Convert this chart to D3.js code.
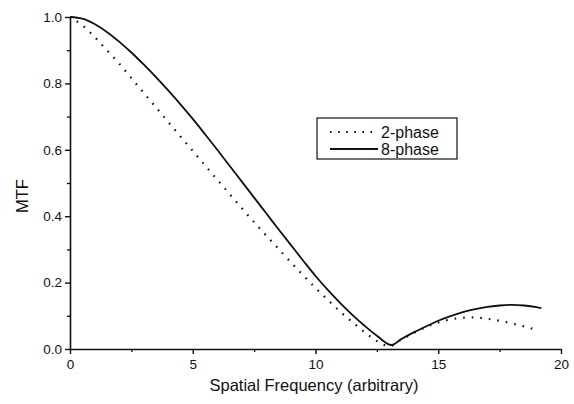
<!DOCTYPE html>
<html>
<head>
<meta charset="utf-8">
<script src="https://cdn.jsdelivr.net/npm/d3@7"></script>
<style>
  html, body { margin: 0; padding: 0; background: #fff; }
  text { font-family: "Liberation Sans", Arial, sans-serif; fill: #111; }
</style>
</head>
<body>
<svg id="chart" width="574" height="404"></svg>
<script>
// ---- data ----
const freq8 = [0, 0.5, 1, 1.5, 2, 2.5, 3, 3.5, 4, 4.5, 5, 5.5, 6, 6.5, 7, 7.5, 8, 8.5, 9, 9.5, 10, 10.5, 11, 11.5, 12, 12.5, 13.1, 13.5, 14, 14.5, 15, 15.5, 16, 16.5, 17, 17.5, 18, 18.5, 19, 19.2];
const mtf8  = [1.0, 0.995, 0.979, 0.955, 0.926, 0.893, 0.857, 0.819, 0.779, 0.737, 0.693, 0.647, 0.600, 0.552, 0.504, 0.456, 0.408, 0.360, 0.313, 0.266, 0.220, 0.178, 0.139, 0.103, 0.070, 0.040, 0.012, 0.030, 0.050, 0.068, 0.085, 0.099, 0.111, 0.120, 0.127, 0.131, 0.133, 0.131, 0.126, 0.123];
const freq2 = [0, 0.5, 1, 1.5, 2, 2.5, 3, 3.5, 4, 4.5, 5, 5.5, 6, 6.5, 7, 7.5, 8, 8.5, 9, 9.5, 10, 10.5, 11, 11.5, 12, 12.5, 13, 13.5, 14, 14.5, 15, 15.5, 16, 16.5, 17, 17.5, 18, 18.5, 18.9];
const mtf2  = [1.0, 0.975, 0.940, 0.900, 0.860, 0.816, 0.772, 0.728, 0.684, 0.640, 0.597, 0.553, 0.510, 0.467, 0.424, 0.382, 0.341, 0.301, 0.261, 0.222, 0.184, 0.148, 0.113, 0.081, 0.051, 0.024, 0.008, 0.029, 0.048, 0.066, 0.080, 0.089, 0.094, 0.095, 0.091, 0.085, 0.077, 0.068, 0.060];
const xTicks = [0, 5, 10, 15, 20];
const xMinor = [2.5, 7.5, 12.5, 17.5];
const yTicks = [0.0, 0.2, 0.4, 0.6, 0.8, 1.0];
const yMinor = [0.1, 0.3, 0.5, 0.7, 0.9];
const seriesNames = ["2-phase", "8-phase"];
const xLabel = "Spatial Frequency (arbitrary)";
const yLabel = "MTF";

// ---- layout ----
const svg = d3.select("#chart");
const x = d3.scaleLinear().domain([0, 20]).range([70, 561]);
const y = d3.scaleLinear().domain([0, 1]).range([349, 17]);

const axisColor = "#111";

// minor ticks
svg.append("g").attr("transform", "translate(0,349)")
  .call(d3.axisBottom(x).tickValues(xMinor).tickSize(3).tickFormat(""))
  .call(g => g.select(".domain").remove())
  .call(g => g.selectAll("line").attr("stroke", axisColor).attr("stroke-width", 1.3));
svg.append("g").attr("transform", "translate(70,0)")
  .call(d3.axisLeft(y).tickValues(yMinor).tickSize(3).tickFormat(""))
  .call(g => g.select(".domain").remove())
  .call(g => g.selectAll("line").attr("stroke", axisColor).attr("stroke-width", 1.3));

// major axes
const gx = svg.append("g").attr("transform", "translate(0,349)")
  .call(d3.axisBottom(x).tickValues(xTicks).tickSize(5).tickSizeOuter(0).tickPadding(5).tickFormat(d3.format("d")));
const gy = svg.append("g").attr("transform", "translate(70,0)")
  .call(d3.axisLeft(y).tickValues(yTicks).tickSize(5).tickSizeOuter(0).tickPadding(3).tickFormat(d3.format(".1f")));
[gx, gy].forEach(g => {
  g.select(".domain").attr("stroke", axisColor).attr("stroke-width", 1.6);
  g.selectAll(".tick line").attr("stroke", axisColor).attr("stroke-width", 1.4);
  g.selectAll(".tick text").attr("font-size", 13.5).attr("font-family", "Liberation Sans, Arial, sans-serif").attr("fill", "#111");
});

// axis labels
svg.append("text").attr("x", 314).attr("y", 391).attr("text-anchor", "middle")
  .attr("font-size", 16.5).text(xLabel);
svg.append("text").attr("transform", "translate(28,196) rotate(-90)").attr("text-anchor", "middle")
  .attr("font-size", 16.5).text(yLabel);

// lines
const line = d3.line().x(d => x(d[0])).y(d => y(d[1])).curve(d3.curveMonotoneX);
const data2 = freq2.map((f, i) => [f, mtf2[i]]);
const data8 = freq8.map((f, i) => [f, mtf8[i]]);

svg.append("path").datum(data2).attr("d", line)
  .attr("fill", "none").attr("stroke", "#111").attr("stroke-width", 2.2)
  .attr("stroke-dasharray", "1.6,7").attr("stroke-dashoffset", -8);
svg.append("path").datum(data8).attr("d", line)
  .attr("fill", "none").attr("stroke", "#111").attr("stroke-width", 1.8);

// legend
const lg = svg.append("g");
lg.append("rect").attr("x", 317).attr("y", 118).attr("width", 140).attr("height", 41)
  .attr("fill", "#fff").attr("stroke", "#111").attr("stroke-width", 1.2);
const rows = [{name: seriesNames[0], dash: "1.6,6.5", w: 2.2, cy: 132}, {name: seriesNames[1], dash: null, w: 1.8, cy: 149}];
rows.forEach(r => {
  lg.append("line").attr("x1", 330).attr("x2", 378).attr("y1", r.cy).attr("y2", r.cy)
    .attr("stroke", "#111").attr("stroke-width", r.w).attr("stroke-dasharray", r.dash);
  lg.append("text").attr("x", 381).attr("y", r.cy).attr("dy", "0.35em")
    .attr("font-size", 16).text(r.name);
});
</script>
</body>
</html>
